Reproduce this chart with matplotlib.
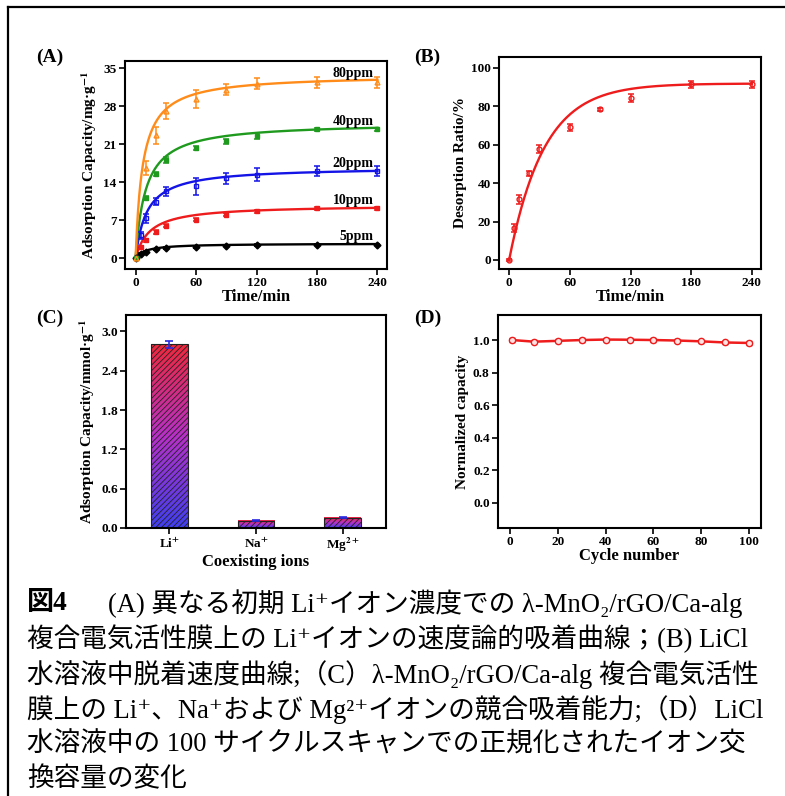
import matplotlib
matplotlib.use("Agg")
import matplotlib.pyplot as plt
import numpy as np
from matplotlib.colors import LinearSegmentedColormap
from matplotlib.lines import Line2D

plt.rcParams['font.family'] = ['Liberation Serif', 'Noto Sans CJK JP', 'DejaVu Serif']
plt.rcParams['font.weight'] = 'bold'
plt.rcParams['mathtext.fontset'] = 'stix'
plt.rcParams['hatch.linewidth'] = 0.6

# ---- (A) adsorption kinetics ----
t_a = [0, 5, 10, 20, 30, 60, 90, 120, 180, 240]
t_a_high = [0, 10, 20, 30, 60, 90, 120, 180, 240]
q_5 = [0, 0.8, 1.2, 1.6, 1.9, 2.1, 2.3, 2.4, 2.5, 2.5]
e_5 = [0, 0.15, 0.15, 0.15, 0.15, 0.15, 0.15, 0.15, 0.15, 0.15]
q_10 = [0, 2.0, 3.3, 4.8, 6.0, 7.1, 8.0, 8.6, 9.2, 9.2]
e_10 = [0, 0.3, 0.3, 0.3, 0.3, 0.3, 0.3, 0.3, 0.3, 0.3]
q_20 = [0, 4.2, 7.3, 10.4, 12.3, 13.2, 14.7, 15.4, 16.0, 16.0]
e_20 = [0, 0.6, 0.8, 0.7, 0.8, 1.5, 1.0, 1.2, 0.9, 0.9]
q_40 = [0, 11.1, 15.5, 18.1, 20.3, 21.5, 22.5, 23.7, 23.7]
e_40 = [0, 0.4, 0.3, 0.5, 0.3, 0.4, 0.5, 0.3, 0.3]
q_80 = [0, 16.6, 22.6, 27.1, 29.3, 31.0, 32.1, 32.4, 32.4]
e_80 = [0, 1.3, 1.5, 1.5, 1.6, 1.0, 1.0, 1.0, 1.0]
# pseudo-second-order fit parameters (qe, half-time)
fit_qe_a = [2.7, 9.8, 16.8, 25.0, 33.8]
fit_half_a = [10, 14, 11, 10, 7]
labels_a = ['5ppm', '10ppm', '20ppm', '40ppm', '80ppm']
label_y_a = [3.9, 10.7, 17.4, 25.2, 34.0]
colors_a = ['black', '#ee1c1c', '#1414e6', '#1f9a1f', '#ff8c1a']

# ---- (B) desorption ----
t_b = [0, 5, 10, 20, 30, 60, 90, 120, 180, 240]
r_b = [0, 16.5, 31.5, 45, 57.7, 69, 78.5, 84.4, 91.3, 91.3]
e_b = [0.5, 2, 2.5, 1.5, 2, 2, 0.8, 2, 2, 2]
fit_qe_b = 91.8
fit_k_b = 0.029

# ---- (C) coexisting ions ----
ions = ['Li$^{\\mathbf{+}}$', 'Na$^{\\mathbf{+}}$', 'Mg$^{\\mathbf{2+}}$']
cap_c = [2.80, 0.11, 0.16]
err_c = [0.05, 0.01, 0.01]

# ---- (D) cycling ----
cycles = [1, 10, 20, 30, 40, 50, 60, 70, 80, 90, 100]
norm_cap = [1.0, 0.99, 0.995, 1.0, 1.003, 1.002, 1.0, 0.997, 0.992, 0.985, 0.982]
norm_err = [0.01] * 11

caption = [
    "(A) 異なる初期 Li⁺イオン濃度での λ-MnO₂/rGO/Ca-alg",
    "複合電気活性膜上の Li⁺イオンの速度論的吸着曲線；(B) LiCl",
    "水溶液中脱着速度曲線;（C）λ-MnO₂/rGO/Ca-alg 複合電気活性",
    "膜上の Li⁺、Na⁺および Mg²⁺イオンの競合吸着能力;（D）LiCl",
    "水溶液中の 100 サイクルスキャンでの正規化されたイオン交",
    "換容量の変化",
]

W, H = 785, 796
fig = plt.figure(figsize=(W / 100, H / 100), dpi=100)


def px_axes(left, top, right, bottom):
    return fig.add_axes([left / W, 1 - bottom / H, (right - left) / W, (bottom - top) / H])


def style(ax):
    for s in ax.spines.values():
        s.set_linewidth(1.5)
    ax.tick_params(direction='out', length=4, width=1.2, labelsize=9.5, pad=2)
    for lab in ax.get_xticklabels() + ax.get_yticklabels():
        lab.set_fontweight('bold')


# (A)
ax = px_axes(125, 61, 387, 269)
tt = np.linspace(0, 240, 400)
series = [(t_a, q_5, e_5, 'D'), (t_a, q_10, e_10, 's'), (t_a, q_20, e_20, 's'),
          (t_a_high, q_40, e_40, 's'), (t_a_high, q_80, e_80, '^')]
for i, (t, q, e, m) in enumerate(series):
    c = colors_a[i]
    fc = 'none' if i in (2, 4) else c
    ax.errorbar(t, q, yerr=e, fmt=m, ms=3.5, mfc=fc, mec=c, color=c,
                ecolor=c, elinewidth=1.1, capsize=2.2, capthick=1.1, zorder=3)
    k = 1.0 / (fit_qe_a[i] * fit_half_a[i])
    ax.plot(tt, fit_qe_a[i] ** 2 * k * tt / (1 + fit_qe_a[i] * k * tt), color=c, lw=1.7, zorder=2)
    ax.text(236, label_y_a[i], labels_a[i], ha='right', va='center', fontsize=10, fontweight='bold')
ax.set_xlim(-10.5, 249.5)
ax.set_ylim(-2, 36.3)
ax.set_xticks([0, 60, 120, 180, 240])
ax.set_yticks([0, 7, 14, 21, 28, 35])
ax.set_xlabel('Time/min', fontsize=12, fontweight='bold', labelpad=0)
ax.set_ylabel('Adsorption Capacity/mg·g$^{\\mathbf{-1}}$', fontsize=11, fontweight='bold', labelpad=3)
style(ax)

# (B)
ax = px_axes(499, 57, 761, 269)
ax.errorbar(t_b, r_b, yerr=e_b, fmt='o', ms=3.5, mfc='none', mec='#ee1c1c',
            ecolor='#ee1c1c', elinewidth=1.1, capsize=2.2, capthick=1.1, zorder=3)
ax.plot(tt, fit_qe_b * (1 - np.exp(-fit_k_b * tt)), color='#ee1c1c', lw=1.7, zorder=2)
ax.set_xlim(-10, 249)
ax.set_ylim(-4.7, 105.6)
ax.set_xticks([0, 60, 120, 180, 240])
ax.set_yticks([0, 20, 40, 60, 80, 100])
ax.set_xlabel('Time/min', fontsize=12, fontweight='bold', labelpad=0)
ax.set_ylabel('Desorption Ratio/%', fontsize=11, fontweight='bold', labelpad=3)
style(ax)

# (C)
ax = px_axes(126, 315, 386, 528)
cmap = LinearSegmentedColormap.from_list('rb', ['#3f3ff0', '#b830c8', '#f0283c'])
grad = np.linspace(0, 1, 256).reshape(-1, 1)
xpos = np.arange(1, len(cap_c) + 1)
bw = 0.42
for x, h in zip(xpos, cap_c):
    ax.imshow(grad, cmap=cmap, origin='lower', aspect='auto',
              extent=[x - bw / 2, x + bw / 2, 0, h], zorder=1)
ax.bar(xpos, cap_c, width=bw, facecolor='none', edgecolor='#222222', hatch='//////',
       linewidth=0.8, zorder=2)
ax.errorbar(xpos, cap_c, yerr=err_c, fmt='none', ecolor='#2a2ae0', elinewidth=1.2,
            capsize=3, capthick=1.2, zorder=3)
ax.set_xlim(0.5, 3.5)
ax.set_ylim(0, 3.25)
ax.set_xticks(xpos)
ax.set_xticklabels(ions)
ax.set_yticks([0, 0.6, 1.2, 1.8, 2.4, 3.0])
ax.set_yticklabels(['0.0', '0.6', '1.2', '1.8', '2.4', '3.0'])
ax.set_xlabel('Coexisting ions', fontsize=12, fontweight='bold', labelpad=0)
ax.set_ylabel('Adsorption Capacity/mmol·g$^{\\mathbf{-1}}$', fontsize=11, fontweight='bold', labelpad=3)
style(ax)

# (D)
ax = px_axes(498, 315, 761, 528)
ax.errorbar(cycles, norm_cap, yerr=norm_err, fmt='-o', color='#ee1c1c', lw=1.8, ms=4.5,
            mfc='#ffe4e4', mec='#ee1c1c', ecolor='#ee1c1c', elinewidth=1, capsize=2)
ax.set_xlim(-5, 105)
ax.set_ylim(-0.156, 1.154)
ax.set_xticks([0, 20, 40, 60, 80, 100])
ax.set_yticks([0, 0.2, 0.4, 0.6, 0.8, 1.0])
ax.set_yticklabels(['0.0', '0.2', '0.4', '0.6', '0.8', '1.0'])
ax.set_xlabel('Cycle number', fontsize=12, fontweight='bold', labelpad=0)
ax.set_ylabel('Normalized capacity', fontsize=11, fontweight='bold', labelpad=3)
style(ax)

# panel letters
for lab, x, y in [('(A)', 36, 57), ('(B)', 414, 57), ('(C)', 36, 318), ('(D)', 414, 318)]:
    fig.text(x / W, 1 - y / H, lab, fontsize=14, fontweight='bold', va='center', ha='left')

# frame (top and left edges)
fig.add_artist(Line2D([8 / W, 1], [1 - 7 / H, 1 - 7 / H], color='black', lw=1.6))
fig.add_artist(Line2D([8 / W, 8 / W], [0, 1 - 7 / H], color='black', lw=1.6))

# caption
y0, dy = 604, 35.2
fig.text(27 / W, 1 - y0 / H, '図4', fontsize=19.5, fontweight='bold', va='center', ha='left')
for i, line in enumerate(caption):
    x = 108 if i == 0 else 27
    fig.text(x / W, 1 - (y0 + i * dy) / H, line, fontsize=19.2, fontweight='normal',
             va='center', ha='left')

fig.savefig('out.png', dpi=100)
